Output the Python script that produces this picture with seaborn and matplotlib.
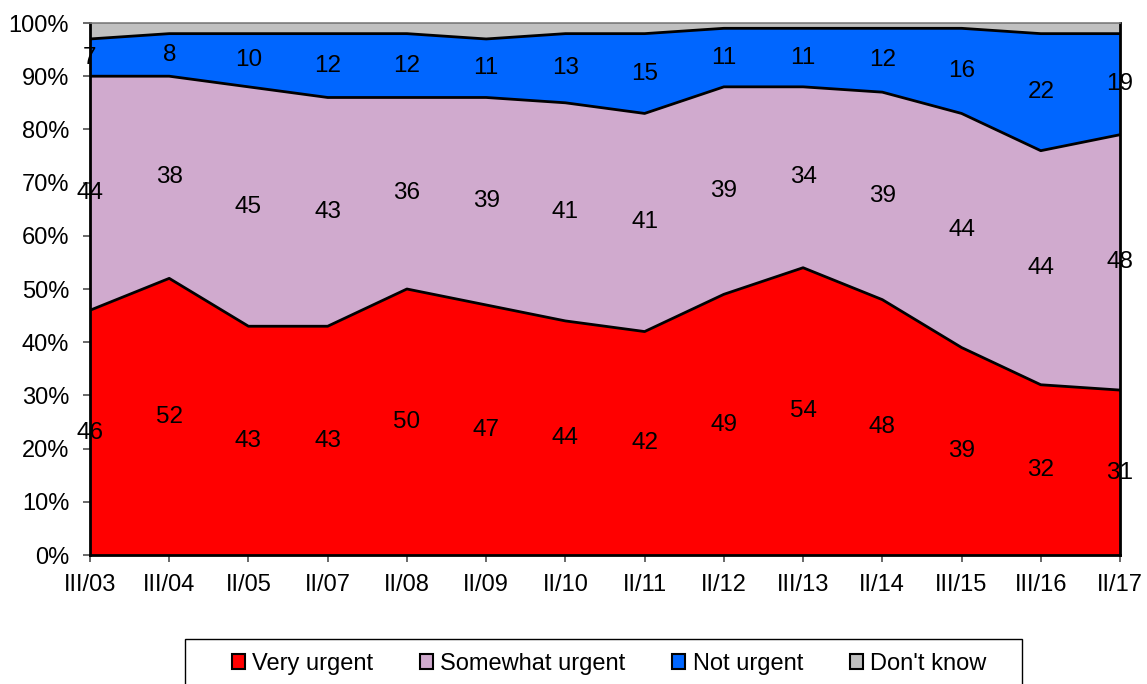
import numpy as np
import pandas as pd
import matplotlib
matplotlib.use("Agg")
import matplotlib.pyplot as plt
import seaborn as sns
from matplotlib.patches import Patch, Rectangle
from matplotlib import font_manager as fm

categories = ["III/03", "III/04", "II/05", "II/07", "II/08", "II/09", "II/10",
              "II/11", "II/12", "III/13", "II/14", "III/15", "III/16", "II/17"]
very_urgent = [46, 52, 43, 43, 50, 47, 44, 42, 49, 54, 48, 39, 32, 31]
somewhat_urgent = [44, 38, 45, 43, 36, 39, 41, 41, 39, 34, 39, 44, 44, 48]
not_urgent = [7, 8, 10, 12, 12, 11, 13, 15, 11, 11, 12, 16, 22, 19]
dont_know = [3, 2, 2, 2, 2, 3, 2, 2, 1, 1, 1, 1, 2, 2]

series_names = ["Very urgent", "Somewhat urgent", "Not urgent", "Don't know"]
colors = ["#FF0000", "#D0AACE", "#0066FF", "#C0C0C0"]

sns.set_theme(style="white")
fam = "Liberation Sans"
for f in fm.fontManager.ttflist:
    if "LiberationSans-Regular" in f.fname:
        fam = f.name
        break
plt.rcParams["font.family"] = [fam, "DejaVu Sans"]
plt.rcParams["text.color"] = "black"
plt.rcParams["xtick.color"] = "black"
plt.rcParams["ytick.color"] = "black"
plt.rcParams["axes.labelcolor"] = "black"

W, H = 1147, 684
fig = plt.figure(figsize=(W / 100, H / 100), dpi=100)
ax = fig.add_axes([90 / W, 1 - 555 / H, (1120 - 90) / W, (555 - 23) / H])

x = np.arange(len(categories))
data = [very_urgent, somewhat_urgent, not_urgent, dont_know]
df = pd.DataFrame({name: vals for name, vals in zip(series_names, data)})

ax.stackplot(x, *[df[n] for n in series_names], colors=colors, linewidth=0)

cum = np.zeros(len(x))
bottoms = []
for i, name in enumerate(series_names):
    bottoms.append(cum.copy())
    cum = cum + df[name].values
    if i < 3:
        sns.lineplot(x=x, y=cum, ax=ax, color="black", linewidth=2, legend=False)
    else:
        sns.lineplot(x=x, y=cum, ax=ax, color="#808080", linewidth=1.2, legend=False)

for i, name in enumerate(series_names[:3]):
    vals = df[name].values
    for xi, b, v in zip(x, bottoms[i], vals):
        ax.text(xi, b + v / 2.0, f"{v}", ha="center", va="center",
                fontsize=17.5, color="black", clip_on=False)

ax.set_xlim(0, len(categories) - 1)
ax.set_ylim(0, 100)
ax.set_xticks(x)
ax.set_xticklabels(categories, fontsize=17)
ax.set_yticks(np.arange(0, 101, 10))
ax.set_yticklabels([f"{v}%" for v in range(0, 101, 10)], fontsize=17)
ax.tick_params(axis="both", direction="out", length=5, width=1.1, color="#404040",
               labelcolor="black", bottom=True, left=True)
ax.tick_params(axis="x", pad=9)
ax.tick_params(axis="y", pad=10)
for side in ["left", "bottom", "right"]:
    ax.spines[side].set_color("black")
    ax.spines[side].set_linewidth(2)
ax.spines["top"].set_color("#808080")
ax.spines["top"].set_linewidth(1.2)
ax.set_xlabel("")
ax.set_ylabel("")

# legend frame (extends beyond the bottom edge as in the reference)
fig.patches.append(Rectangle((185 / W, -0.05), (1022 - 185) / W, 0.05 + (1 - 639 / H),
                             transform=fig.transFigure, facecolor="white",
                             edgecolor="black", linewidth=1, zorder=0))

handles = [Patch(facecolor=c, edgecolor="black", linewidth=1.5) for c in colors]
leg = fig.legend(handles, series_names, loc="center",
                 bbox_to_anchor=(609 / W, 1 - 664 / H),
                 ncol=4, frameon=False, labelcolor="black",
                 fontsize=17, handlelength=0.55, handleheight=0.6, handletextpad=0.3,
                 columnspacing=2.0, borderpad=0, borderaxespad=0)

fig.savefig("out.png", dpi=100)
